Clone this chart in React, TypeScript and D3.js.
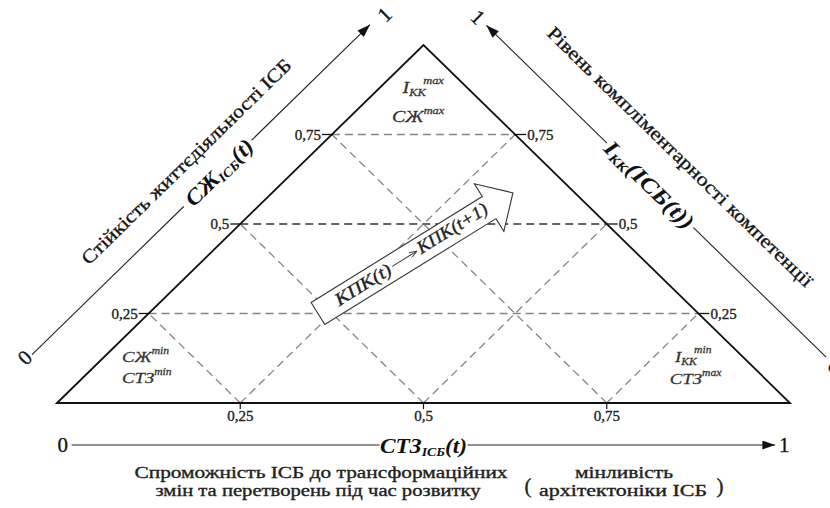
import * as d3 from "d3";

const W = 830;
const H = 508;

// quarter levels shared by the three scales
const levels = [0.25, 0.5, 0.75];
const levelLabels = ["0,25", "0,5", "0,75"];
const endLabels = ["0", "1"];

// titles of the three scales
const leftTitle = "Стійкість життєдіяльності ІСБ";
const rightTitle = "Рівень компліментарності компетенції";
const captionMain = ["Спроможність ІСБ до трансформаційних", "змін та перетворень під час розвитку"];
const captionAside = ["мінливість", "архітектоніки ІСБ"];

// corner notes: [symbol, subscript, superscript]
const topNotes = [["I", "КК", "max"], ["СЖ", "", "max"]];
const leftNotes = [["СЖ", "", "min"], ["СТЗ", "", "min"]];
const rightNotes = [["I", "КК", "min"], ["СТЗ", "", "max"]];

// movement of the competence potential: [share of base, share of height]
const kpkFrom = [0.356, 0.25];
const kpkTo = [0.622, 0.587];
const kpkLabels = ["КПК(t)", "КПК(t+1)"];

const serif = { fontFamily: "Liberation Serif" };
// the scan looks heavier than the plain font
const ink = { stroke: "#222", strokeWidth: 0.35 };

//Scales of the triangle
const x = d3.scaleLinear().domain([0, 1]).range([57, 790]);
const y = d3.scaleLinear().domain([0, 1]).range([403, 45]);

const sideLen = Math.hypot(x(0.5) - x(0), y(0) - y(1));
const nx = (y(0) - y(1)) / sideLen;
const ny = (x(0.5) - x(0)) / sideLen;
const tilt = (Math.atan2(y(0) - y(1), x(0.5) - x(0)) * 180) / Math.PI;

// point at share f along a side, pushed outwards by off px
const onLeft = (f: number, off: number) => [x(f / 2) - off * nx, y(f) - off * ny];
const onRight = (f: number, off: number) => [x(1 - f / 2) + off * nx, y(f) - off * ny];

const Note = ({ px, py, note, size }: { px: number; py: number; note: string[]; size: number }) => {
  const [base, sub, sup] = note;
  return (
    <g transform={`translate(${px},${py}) scale(1.25,1)`}>
      <text fontStyle="italic" fill="#333" fontSize={size} style={serif} stroke="#333" strokeWidth={0.25}>
        {base}
        {sub && (
          <tspan fontSize={size * 0.62} dy={3}>
            {sub}
          </tspan>
        )}
        {sup && (
          <tspan fontSize={size * 0.62} dy={sub ? -12 : -8} dx={sub ? -2 : 0}>
            {sup}
          </tspan>
        )}
      </text>
    </g>
  );
};

const seg = (a: number[], b: number[]) => ({ x1: a[0], y1: a[1], x2: b[0], y2: b[1] });

export default function App() {
  const tri = [
    [x(0), y(0)],
    [x(0.5), y(1)],
    [x(1), y(0)],
  ];
  const axisY = y(0) + 42;

  // outer side scales
  const leftOff = 52;
  const rightOff = 58;
  const leftParts = [
    [0.031, 0.445],
    [0.63, 0.953],
  ];
  const rightParts = [
    [0.012, 0.374],
    [0.61, 0.939],
  ];

  // arrow of the potential
  const T = [x(kpkFrom[0]), y(kpkFrom[1])];
  const P = [x(kpkTo[0]), y(kpkTo[1])];
  const len = Math.hypot(P[0] - T[0], P[1] - T[1]);
  const ang = (Math.atan2(P[1] - T[1], P[0] - T[0]) * 180) / Math.PI;
  const sh = 13;
  const hl = 28;
  const hw = 28;
  const arrowPts = [
    [0, -sh],
    [len - hl, -sh],
    [len - hl, -hw],
    [len, 0],
    [len - hl, hw],
    [len - hl, sh],
    [0, sh],
  ];

  const lt = onLeft(0.51, 76);
  const rt = onRight(0.489, 93);
  const la = onLeft(0.541, leftOff);
  const ra = onRight(0.494, rightOff);
  const l0 = onLeft(0.017, 55);
  const l1 = onLeft(0.987, 49);
  const r0 = onRight(-0.012, rightOff);
  const r1 = onRight(0.962, rightOff);

  return (
    <svg width={W} height={H} style={{ position: "absolute", left: 0, top: 0, background: "#fff", ...serif }}>
      <defs>
        <marker
          id="ah"
          viewBox="0 0 10 10"
          refX="10"
          refY="5"
          markerWidth="13"
          markerHeight="9"
          markerUnits="userSpaceOnUse"
          preserveAspectRatio="none"
          orient="auto"
        >
          <path d="M0,0 L10,5 L0,10 z" fill="#111" />
        </marker>
        <marker
          id="ahs"
          viewBox="0 0 10 10"
          refX="10"
          refY="5"
          markerWidth="8"
          markerHeight="6"
          markerUnits="userSpaceOnUse"
          preserveAspectRatio="none"
          orient="auto"
        >
          <path d="M0,0 L10,5 L0,10" fill="none" stroke="#333" strokeWidth={1.5} />
        </marker>
      </defs>

      {/* dashed quarter grid */}
      <g fill="none" strokeWidth={1.3} strokeDasharray="8,5">
        {levels.map((h) => (
          <line
            key={"h" + h}
            {...seg([x(h / 2), y(h)], [x(1 - h / 2), y(h)])}
            stroke={h === 0.5 ? "#333" : "#858585"}
          />
        ))}
        {levels.map((t) => (
          <line key={"a" + t} {...seg([x(t), y(0)], [x(t / 2), y(t)])} stroke="#858585" />
        ))}
        {levels.map((t) => (
          <line key={"b" + t} {...seg([x(t), y(0)], [x((1 + t) / 2), y(1 - t)])} stroke="#858585" />
        ))}
      </g>

      {/* triangle */}
      <polygon points={tri.map((p) => p.join(",")).join(" ")} fill="none" stroke="#111" strokeWidth={1.8} />

      {/* ticks and labels on the sides */}
      <g fontSize={15} fill="#222" style={serif}>
        {levels.map((h, i) => (
          <g key={"t" + h}>
            <line {...seg([x(h / 2) - 10, y(h)], [x(h / 2) + 1, y(h)])} stroke="#111" strokeWidth={1.3} />
            <text x={x(h / 2) - 11} y={y(h)} dy="0.35em" textAnchor="end" {...ink}>
              {levelLabels[i]}
            </text>
            <line {...seg([x(1 - h / 2) - 1, y(h)], [x(1 - h / 2) + 11, y(h)])} stroke="#111" strokeWidth={1.3} />
            <text x={x(1 - h / 2) + 12} y={y(h)} dy="0.35em" {...ink}>
              {levelLabels[i]}
            </text>
            <line {...seg([x(h), y(0)], [x(h), y(0) + 6])} stroke="#111" strokeWidth={1.2} />
            <text x={x(h)} y={y(0) + 18} textAnchor="middle" {...ink}>
              {levelLabels[i]}
            </text>
          </g>
        ))}
      </g>

      {/* corner notes */}
      {topNotes.map((n, i) => (
        <Note key={"tn" + i} px={i ? x(0.457) : x(0.4715)} py={i ? 122 : 93} note={n} size={16} />
      ))}
      {leftNotes.map((n, i) => (
        <Note key={"ln" + i} px={x(0.0887)} py={i ? 383 : 362} note={n} size={15} />
      ))}
      {rightNotes.map((n, i) => (
        <Note key={"rn" + i} px={i ? x(0.836) : x(0.843)} py={i ? 384 : 362} note={n} size={15} />
      ))}

      {/* outer scales */}
      <g stroke="#222" strokeWidth={1.1}>
        {leftParts.map((p, i) => (
          <line
            key={"lp" + i}
            {...seg(onLeft(p[0], leftOff), onLeft(p[1], leftOff))}
            markerEnd={i ? "url(#ah)" : undefined}
          />
        ))}
        {rightParts.map((p, i) => (
          <line
            key={"rp" + i}
            {...seg(onRight(p[0], rightOff), onRight(p[1], rightOff))}
            markerEnd={i ? "url(#ah)" : undefined}
          />
        ))}
        <line {...seg([x(0.02), axisY], [x(0.44), axisY])} />
        <line {...seg([x(0.56), axisY], [x(0.98), axisY])} markerEnd="url(#ah)" />
      </g>

      <g fontSize={21} fill="#111" dominantBaseline="central" textAnchor="middle" style={serif} {...ink}>
        <text transform={`translate(${l0}) rotate(${-tilt})`}>{endLabels[0]}</text>
        <text transform={`translate(${l1}) rotate(${-tilt})`}>{endLabels[1]}</text>
        <text transform={`translate(${r0}) rotate(${tilt})`}>{endLabels[0]}</text>
        <text transform={`translate(${r1}) rotate(${tilt})`}>{endLabels[1]}</text>
        <text x={x(0.008)} y={axisY}>
          {endLabels[0]}
        </text>
        <text x={x(0.992)} y={axisY}>
          {endLabels[1]}
        </text>
      </g>

      {/* scale symbols */}
      <g fontWeight="bold" fontStyle="italic" fill="#111" textAnchor="middle" style={serif}>
        <text
          transform={`translate(${la}) rotate(${-tilt})`}
          dy="0.35em"
          fontSize={22}
          textLength={86}
          lengthAdjust="spacingAndGlyphs"
        >
          СЖ<tspan fontSize={13} dy={3}>ІСБ</tspan>
          <tspan dy={-3}>(t)</tspan>
        </text>
        <text
          transform={`translate(${ra}) rotate(${tilt})`}
          dy="0.35em"
          fontSize={22}
          textLength={116}
          lengthAdjust="spacingAndGlyphs"
        >
          I<tspan fontSize={13} dy={3}>КК</tspan>
          <tspan dy={-3}>(ІСБ(t))</tspan>
        </text>
        <text x={x(0.5)} y={axisY} dy="0.35em" fontSize={22} textLength={87} lengthAdjust="spacingAndGlyphs">
          СТЗ<tspan fontSize={13} dy={3}>ІСБ</tspan>
          <tspan dy={-3}>(t)</tspan>
        </text>
      </g>

      {/* scale titles */}
      <g fontSize={19} fill="#111" textAnchor="middle" style={serif} {...ink}>
        <text
          transform={`translate(${lt}) rotate(${-tilt})`}
          textLength={285}
          lengthAdjust="spacingAndGlyphs"
        >
          {leftTitle}
        </text>
        <text
          transform={`translate(${rt}) rotate(${tilt})`}
          textLength={363}
          lengthAdjust="spacingAndGlyphs"
        >
          {rightTitle}
        </text>
      </g>

      {/* potential arrow */}
      <g transform={`translate(${T}) rotate(${ang})`} style={serif}>
        <polygon points={arrowPts.map((p) => p.join(",")).join(" ")} fill="#fff" stroke="#333" strokeWidth={1.1} />
        <g fontSize={18} fontStyle="italic" fill="#222" {...ink}>
          <text x={22} y={5} textLength={63} lengthAdjust="spacingAndGlyphs">
            {kpkLabels[0]}
          </text>
          <text x={119} y={4} textLength={80} lengthAdjust="spacingAndGlyphs">
            {kpkLabels[1]}
          </text>
        </g>
        <line x1={88} y1={-1} x2={117} y2={-1} stroke="#333" strokeWidth={1} markerEnd="url(#ahs)" />
      </g>

      {/* caption */}
      <g fontSize={16} fill="#222" textAnchor="middle" style={serif} {...ink}>
        <text x={321} y={478} textLength={373} lengthAdjust="spacingAndGlyphs">
          {captionMain[0]}
        </text>
        <text x={318} y={496} textLength={325} lengthAdjust="spacingAndGlyphs">
          {captionMain[1]}
        </text>
        <text x={624} y={478} textLength={98} lengthAdjust="spacingAndGlyphs">
          {captionAside[0]}
        </text>
        <text x={623} y={496} textLength={168} lengthAdjust="spacingAndGlyphs">
          {captionAside[1]}
        </text>
        <text x={528} y={493} fontSize={21}>
          (
        </text>
        <text x={720} y={493} fontSize={21}>
          )
        </text>
      </g>
    </svg>
  );
}
